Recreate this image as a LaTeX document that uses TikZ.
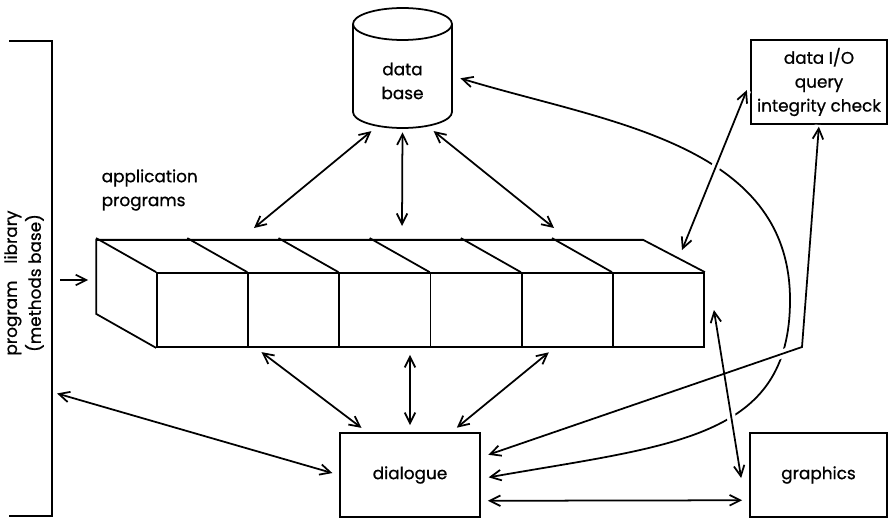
\documentclass[tikz,border=0pt]{standalone}
\usepackage{fontspec}
\setmainfont{Poppins}[FakeBold=0.8]
\usetikzlibrary{arrows.meta}

\begin{document}
\begin{tikzpicture}[x=0.02cm,y=0.02cm,line width=1pt,
		>={Straight Barb[length=6pt,width=6pt]},
		txt/.style={font=\fontsize{9.6}{13.6}\selectfont,align=center},
		frame/.style={draw,txt,minimum width=2.72cm,minimum height=1.68cm},
		cell/.style={draw,minimum width=1.8234cm,minimum height=1.48cm,inner sep=0pt},
		halo/.style={draw=white,line width=5pt}]
		\useasboundingbox (0,0) rectangle (888,518);
		%Program library bracket
		\draw (9,477)--(52,477)--(52,2)--(9,2);
		\node[txt,rotate=90] (lib) at (24,235) {program\quad library\\(methods base)};
		\coordinate (libin) at (52,126);
		\coordinate (feed) at (60,238);
		\coordinate (face) at (97,238);
		%Data base
		\node[minimum width=1.98cm,minimum height=2.4cm] (db) at (402.5,450) {};
		\draw (402.5,494) ellipse [x radius=0.99cm,y radius=0.32cm];
		\draw (353,494)--(353,406) arc[start angle=180,end angle=360,x radius=0.99cm,y radius=0.32cm]--(452,494);
		\node[txt] (dbtext) at (402.5,437) {data\\base};
		%Boxes
		\node[frame] (io) at (819,436) {data I/O\\query\\integrity check};
		\node[frame,minimum width=2.8cm] (dialogue) at (410,43) {dialogue};
		\node[frame,minimum width=2.74cm] (graphics) at (818.5,43) {graphics};
		%Application programs
		\node[txt,align=left,anchor=west] (app) at (95,328) {application\\programs};
		\foreach \i in {1,...,6}
		\node[cell] (c\i) at (157+91.17*\i-45.58,208) {};
		\draw (c1.south west)--++(-60,34)--++(0,74)--++(547,0)--(c6.north east);
		\foreach \i in {1,...,6}
		\draw (c\i.north west)--++(-60,34);
		\coordinate (tl) at (254,290);
		\coordinate (tm) at (402,292);
		\coordinate (tr) at (554,290);
		\coordinate (slant) at (682,268);
		\coordinate (bend) at (802,171);
		\coordinate (swing) at (790,218);
		%Curve from the data base, broken where lines cross it
		\draw[<->,shorten <=4.5pt,shorten >=4.5pt] (db.-9) to[out=-17,in=90] (swing) to[out=-90,in=10,in looseness=1.4] (dialogue.-3);
		\draw[halo] ([xshift=0.18cm]c6.east)--([xshift=-0.16cm,yshift=-0.06cm]graphics.west);
		\draw[halo,shorten <=4.5pt] (dialogue.14)--(bend)--(io.south);
		\draw[halo,shorten >=5pt] (slant)--(io.west);
		%Arrows
		\draw[<->,shorten <=2pt] (db.-115)--(tl);
		\draw[<->,shorten <=2pt] (db.south)--(tm);
		\draw[<->,shorten <=2pt] (db.-65)--(tr);
		\draw[<->,shorten <=4pt,shorten >=4pt] (c2.-135)--(dialogue.135);
		\draw[<->,shorten <=4pt,shorten >=4pt] (dialogue.north |- c3.south)--(dialogue.north);
		\draw[<->,shorten <=4pt,shorten >=4pt] (c5.-109)--(dialogue.46);
		\draw[<->,shorten <=4pt,shorten >=3pt] (dialogue.west)--(libin);
		\draw[<->,shorten <=4pt,shorten >=4pt] (dialogue.-20)--(graphics.200);
		\draw[->,shorten >=5pt] (feed)--(face);
		\draw[<->] ([xshift=0.18cm]c6.east)--([xshift=-0.16cm,yshift=-0.06cm]graphics.west);
		\draw[<->,shorten <=4.5pt,shorten >=1pt] (dialogue.14)--(bend)--(io.south);
		\draw[<->,shorten >=5pt] (slant)--(io.west);
\end{tikzpicture}
\end{document}
